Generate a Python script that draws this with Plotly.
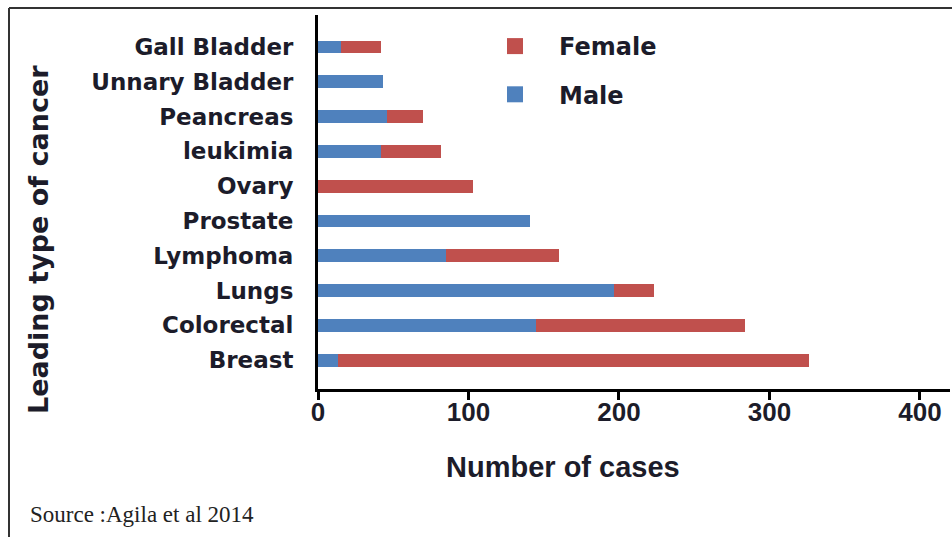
import plotly.graph_objects as go

# Data (top to bottom as shown)
categories = ["Gall Bladder", "Unnary Bladder", "Peancreas", "leukimia", "Ovary",
              "Prostate", "Lymphoma", "Lungs", "Colorectal", "Breast"]
male = [15, 43, 46, 42, 0, 141, 85, 197, 145, 13]
female = [27, 0, 24, 40, 103, 0, 75, 26, 139, 313]
x_ticks = [0, 100, 200, 300, 400]

RED = "#C0504D"
BLUE = "#4F81BD"
TXT = "#1c1c2a"

fig = go.Figure()
fig.add_trace(go.Bar(y=categories, x=male, orientation="h", name="Male",
                     marker=dict(color=BLUE, line=dict(width=0)), showlegend=False))
fig.add_trace(go.Bar(y=categories, x=female, orientation="h", name="Female",
                     marker=dict(color=RED, line=dict(width=0)), showlegend=False))
# legend entries
fig.add_trace(go.Scatter(x=[None], y=[None], mode="markers", name="Female",
                         marker=dict(symbol="square", size=16, color=RED),
                         legendgroup="f"))
fig.add_trace(go.Scatter(x=[None], y=[None], mode="markers", name="Male",
                         marker=dict(symbol="square", size=16, color=BLUE),
                         legendgroup="m"))

L, T, R, B = 318, 15, 2, 148
W, H = 952, 537
pw, ph = W - L - R, H - T - B

def px(x):
    return (x - L) / pw

def py(y):
    return (H - B - y) / ph

fig.update_layout(
    width=W, height=H,
    margin=dict(l=L, r=R, t=T, b=B),
    paper_bgcolor="white", plot_bgcolor="white",
    barmode="stack", bargap=0.63,
    showlegend=True,
    legend=dict(x=px(471), y=py(24), xanchor="left", yanchor="top",
                traceorder="grouped", tracegroupgap=14,
                font=dict(family="DejaVu Sans", size=24, color=TXT, weight="bold"),
                bgcolor="rgba(0,0,0,0)", itemwidth=78),
    xaxis=dict(range=[0, 420], tickvals=x_ticks, ticktext=[str(v) for v in x_ticks],
               showgrid=False, zeroline=False, showline=True, linecolor="black",
               linewidth=3, ticks="outside", ticklen=8, tickwidth=3, tickcolor="black",
               ticklabelstandoff=-10,
               tickfont=dict(family="Liberation Sans", size=26, color=TXT, weight="bold")),
    yaxis=dict(type="category", categoryarray=categories, categoryorder="array",
               range=[9.83, -0.92], showgrid=False, zeroline=False,
               showline=True, linecolor="black", linewidth=3, ticks="",
               ticklabelstandoff=17,
               tickfont=dict(family="DejaVu Sans", size=23, color=TXT, weight="bold")),
    font=dict(family="Liberation Sans", color=TXT),
)

# x-axis title
fig.add_annotation(text="Number of cases", xref="paper", yref="paper",
                   x=px(563), y=py(467), showarrow=False,
                   xanchor="center", yanchor="middle",
                   font=dict(family="Liberation Sans", size=29, color=TXT, weight="bold"))
# y-axis title
fig.add_annotation(text="Leading type of cancer", xref="paper", yref="paper",
                   x=px(38), y=py(240), textangle=-90, showarrow=False,
                   xanchor="center", yanchor="middle",
                   font=dict(family="DejaVu Sans", size=27, color=TXT, weight="bold"))
# source
fig.add_annotation(text="Source :Agila et al 2014", xref="paper", yref="paper",
                   x=px(28), y=py(514), showarrow=False, xanchor="left", yanchor="middle",
                   font=dict(family="Liberation Serif", size=23, color="#222222"))

# frame
fig.add_shape(type="line", xref="paper", yref="paper", x0=px(9), x1=px(952),
              y0=py(8), y1=py(8), line=dict(color="#333333", width=2))
fig.add_shape(type="line", xref="paper", yref="paper", x0=px(9), x1=px(9),
              y0=py(8), y1=py(537), line=dict(color="#333333", width=2))

fig.write_html("out.html",
               config={"displayModeBar": False},
               post_script="document.body.style.margin='0px';document.body.style.overflow='hidden';")
